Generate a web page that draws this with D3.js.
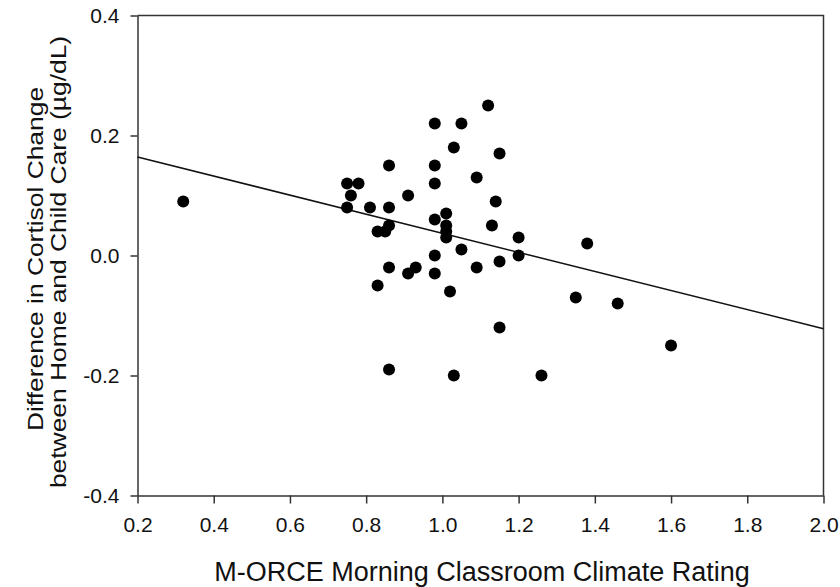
<!DOCTYPE html>
<html>
<head>
<meta charset="utf-8">
<script src="https://cdn.jsdelivr.net/npm/d3@7"></script>
<style>
  body { margin: 0; background: #fff; }
  text { font-family: "Liberation Sans", Arial, sans-serif; fill: #111; }
</style>
</head>
<body>
<script>
// classroom climate rating (x) vs cortisol change difference (y)
var climate = [0.32, 0.75, 0.78, 0.76, 0.75, 0.81, 0.83, 1.12, 0.98, 1.05, 1.03, 1.15,
	0.86, 0.98, 1.09, 0.98, 0.91, 0.86, 1.14, 1.01, 0.98, 1.13, 0.86, 0.85, 1.01,
	1.01, 1.01, 1.20, 1.38, 1.05, 0.98, 1.20, 0.86, 0.93, 0.91, 1.09, 1.15, 0.98,
	0.83, 1.02, 1.35, 1.46, 1.15, 1.60, 0.86, 1.03, 1.26];
var cortisol = [0.09, 0.12, 0.12, 0.10, 0.08, 0.08, 0.04, 0.25, 0.22, 0.22, 0.18, 0.17,
	0.15, 0.15, 0.13, 0.12, 0.10, 0.08, 0.09, 0.07, 0.06, 0.05, 0.05, 0.04, 0.05,
	0.04, 0.03, 0.03, 0.02, 0.01, 0.00, 0.00, -0.02, -0.02, -0.03, -0.02, -0.01, -0.03,
	-0.05, -0.06, -0.07, -0.08, -0.12, -0.15, -0.19, -0.20, -0.20];

// fitted regression line (intercept, slope)
var fit = [0.196, -0.159];

var xTicks = [0.2, 0.4, 0.6, 0.8, 1.0, 1.2, 1.4, 1.6, 1.8, 2.0];
var yTicks = [-0.4, -0.2, 0.0, 0.2, 0.4];

var margin = {top: 15.5, right: 16.5, bottom: 91.5, left: 137.5},
	width = 840 - margin.left - margin.right,
	height = 587 - margin.top - margin.bottom;

var x = d3.scaleLinear().domain([0.2, 2.0]).range([0, width]);
var y = d3.scaleLinear().domain([-0.4, 0.4]).range([height, 0]);

// plain hyphen for negatives, like the original
var fmt = function(d) { return d.toFixed(1); };

var svg = d3.select("body").append("svg")
	.attr("width", 840)
	.attr("height", 587);

var main = svg.append("g")
	.attr("transform", "translate(" + margin.left + "," + margin.top + ")");

// axes
var xAxis = d3.axisBottom(x)
	.tickValues(xTicks)
	.tickFormat(fmt)
	.tickSize(8)
	.tickPadding(14)
	.tickSizeOuter(0);

var yAxis = d3.axisLeft(y)
	.tickValues(yTicks)
	.tickFormat(fmt)
	.tickSize(7)
	.tickPadding(11)
	.tickSizeOuter(0);

main.append("g")
	.attr("transform", "translate(0," + height + ")")
	.call(xAxis)
	.attr("font-size", 21)
	.attr("font-family", "Liberation Sans, Arial, sans-serif");

main.append("g")
	.call(yAxis)
	.attr("font-size", 21)
	.attr("font-family", "Liberation Sans, Arial, sans-serif");

main.selectAll(".tick text").attr("fill", "#111");
main.selectAll(".domain, .tick line").attr("stroke", "#333").attr("stroke-width", 1.5);

// top and right frame
main.append("path")
	.attr("d", "M0,0H" + width + "V" + height)
	.attr("fill", "none")
	.attr("stroke", "#333")
	.attr("stroke-width", 1.5);

// regression line
main.append("line")
	.attr("x1", x(0.2))
	.attr("y1", y(fit[0] + fit[1] * 0.2))
	.attr("x2", x(2.0))
	.attr("y2", y(fit[0] + fit[1] * 2.0))
	.attr("stroke", "#111")
	.attr("stroke-width", 1.5);

// points
main.selectAll("circle")
	.data(climate)
	.enter().append("circle")
		.attr("cx", function(d) { return x(d); })
		.attr("cy", function(d, i) { return y(cortisol[i]); })
		.attr("r", 6)
		.style("fill", "#000");

// axis titles
svg.append("text")
	.attr("text-anchor", "middle")
	.attr("x", 482)
	.attr("y", 581)
	.style("font-size", "27px")
	.text("M-ORCE Morning Classroom Climate Rating");

svg.append("text")
	.attr("text-anchor", "middle")
	.attr("transform", "translate(43,259)rotate(-90)scale(1.2,1)")
	.style("font-size", "22px")
	.text("Difference in Cortisol Change");

svg.append("text")
	.attr("text-anchor", "middle")
	.attr("transform", "translate(66,262)rotate(-90)scale(1.2,1)")
	.style("font-size", "22px")
	.text("between Home and Child Care (\u00b5g/dL)");
</script>
</body>
</html>
